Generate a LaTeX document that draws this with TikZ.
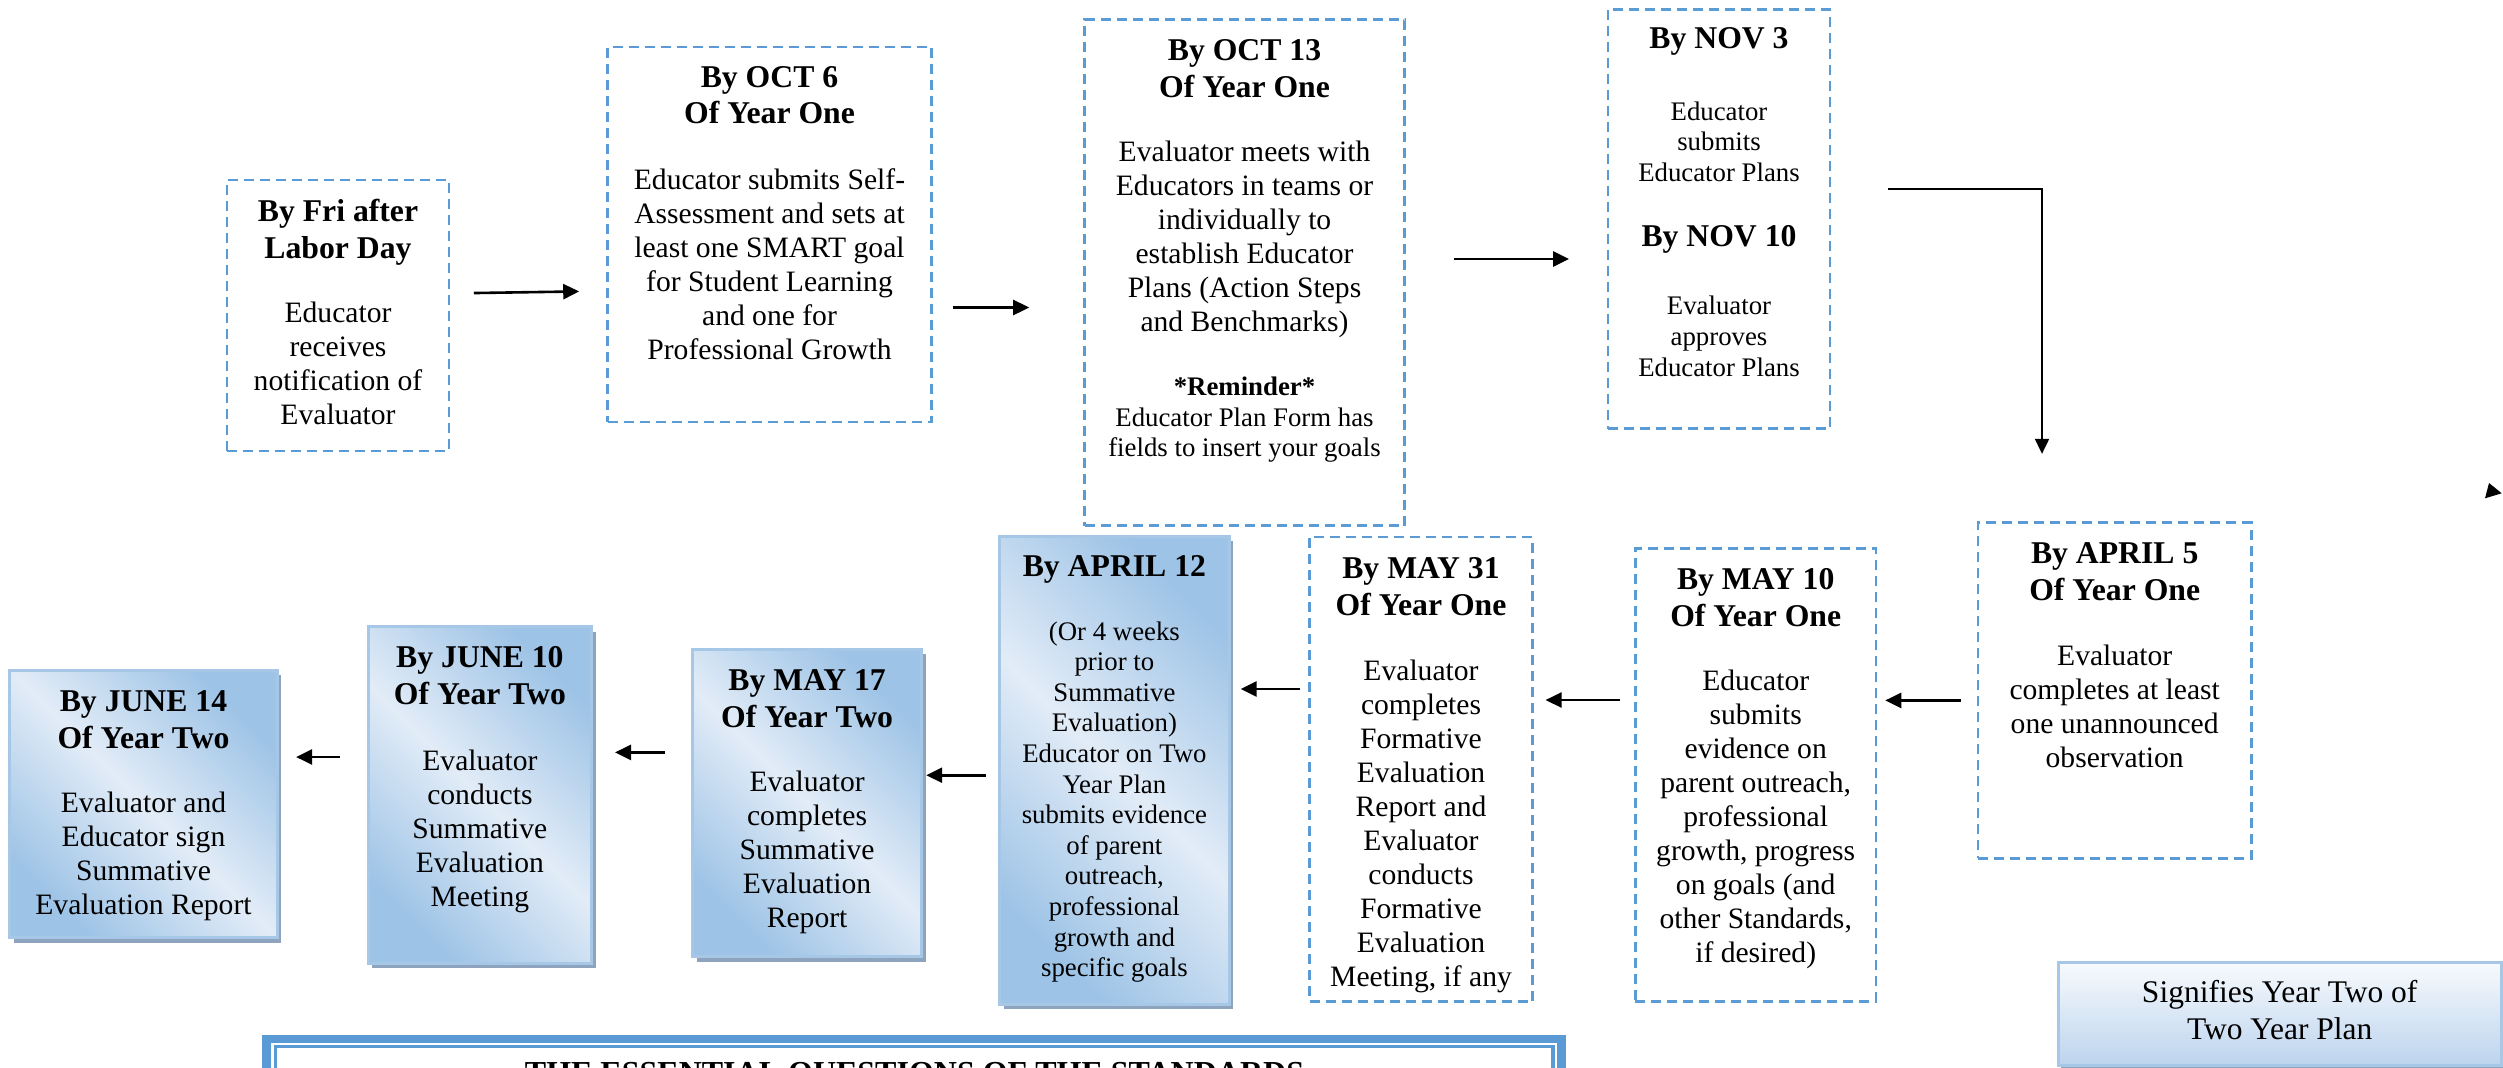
\documentclass[tikz,border=0pt]{standalone}
\usepackage{fontspec}
\setmainfont{Liberation Serif}
\usetikzlibrary{arrows.meta,shadows}
\definecolor{dashblue}{HTML}{5B9BD5}
\definecolor{gblue}{HTML}{9DC3E6}
\definecolor{glight}{HTML}{E2ECF7}
\definecolor{edgeblue}{HTML}{A7C7E7}
\definecolor{shadowc}{HTML}{8EA3BE}
\definecolor{legtop}{HTML}{F7FAFD}
\definecolor{legbot}{HTML}{BDD4EE}
\begin{document}
\begin{tikzpicture}[x=1pt,y=-1pt,
  dbox/.style={draw=dashblue, line width=2.6pt, dash pattern=on 10pt off 6pt, inner sep=0pt},
  sbox/.style={draw=edgeblue, line width=3pt, inner sep=0pt, left color=gblue, right color=gblue, middle color=glight, shading angle=135, drop shadow={shadow xshift=4pt, shadow yshift=-5pt, fill=shadowc, opacity=1}},
  legbox/.style={draw=edgeblue, line width=3pt, inner sep=0pt, top color=legtop, bottom color=legbot, drop shadow={shadow xshift=3pt, shadow yshift=-3pt, fill=shadowc, opacity=1}},
  hd/.style={font=\bfseries\fontsize{31.7}{36.5}\selectfont, align=center, inner sep=0pt, anchor=north},
  bd/.style={font=\fontsize{29.6}{34}\selectfont, align=center, inner sep=0pt, anchor=north},
  sm/.style={font=\fontsize{26.8}{30.6}\selectfont, align=center, inner sep=0pt, anchor=north},
  lg/.style={font=\fontsize{31.5}{36.7}\selectfont, align=center, inner sep=0pt, anchor=north},
  arr/.style={-{Triangle[length=16pt,width=15pt]}, line width=2.6pt},
  elbowarr/.style={-{Triangle[length=15pt,width=14pt]}, line width=2pt},
]
\useasboundingbox (0,0) rectangle (2503,1068);
\clip (0,0) rectangle (2503,1068);
\fill[white] (0,0) rectangle (2503,1068);

% ---------- top row ----------
\node[dbox, minimum width=222pt, minimum height=271pt] (fri) at (338,315.5) {};
\node[hd] (fri-h) at (338,196) {\strut By Fri after\\Labor Day};
\node[bd] (fri-b) at (338,298.1) {\strut Educator\\receives\\notification of\\Evaluator};

\node[dbox, minimum width=324pt, minimum height=375pt] (oct6) at (769.5,234.5) {};
\node[hd] (oct6-h) at (769.5,61.5) {\strut By OCT 6\\Of Year One};
\node[bd] (oct6-b) at (769.5,165.1) {\strut Educator submits Self-\\Assessment and sets at\\least one SMART goal\\for Student Learning\\and one for\\Professional Growth};

\node[dbox, minimum width=320pt, minimum height=506pt] (oct13) at (1244.5,272.7) {};
\node[hd] (oct13-h) at (1244.5,35) {\strut By OCT 13\\Of Year One};
\node[bd] (oct13-b) at (1244.5,137.6) {\strut Evaluator meets with\\Educators in teams or\\individually to\\establish Educator\\Plans (Action Steps\\and Benchmarks)};
\node[sm] (oct13-r) at (1244.5,374) {\strut\textbf{*Reminder*}\\Educator Plan Form has\\fields to insert your goals};

\node[dbox, minimum width=222pt, minimum height=419.4pt] (nov) at (1719,219) {};
\node[hd] (nov-h1) at (1719,23) {\strut By NOV 3};
\node[sm] (nov-b1) at (1719,98.7) {\strut Educator\\submits\\Educator Plans};
\node[hd] (nov-h2) at (1719,220.6) {\strut By NOV 10};
\node[sm] (nov-b2) at (1719,293.2) {\strut Evaluator\\approves\\Educator Plans};

% ---------- bottom row ----------
\node[dbox, minimum width=273.4pt, minimum height=335.5pt] (apr5) at (2114.7,690.5) {};
\node[hd] (apr5-h) at (2114.7,537.9) {\strut By APRIL 5\\Of Year One};
\node[bd] (apr5-b) at (2114.7,641.4) {\strut Evaluator\\completes at least\\one unannounced\\observation};

\node[dbox, minimum width=240.7pt, minimum height=452.9pt] (may10) at (1755.7,775) {};
\node[hd] (may10-h) at (1755.7,564) {\strut By MAY 10\\Of Year One};
\node[bd] (may10-b) at (1755.7,666.6) {\strut Educator\\submits\\evidence on\\parent outreach,\\professional\\growth, progress\\on goals (and\\other Standards,\\if desired)};

\node[dbox, minimum width=222.9pt, minimum height=464.8pt] (may31) at (1421,769.2) {};
\node[hd] (may31-h) at (1421,553) {\strut By MAY 31\\Of Year One};
\node[bd] (may31-b) at (1421,656.1) {\strut Evaluator\\completes\\Formative\\Evaluation\\Report and\\Evaluator\\conducts\\Formative\\Evaluation\\Meeting, if any};

\node[sbox, minimum width=229.8pt, minimum height=467.6pt] (apr12) at (1114.4,770.2) {};
\node[hd] (apr12-h) at (1114.4,551) {\strut By APRIL 12};
\node[sm] (apr12-b) at (1114.4,618.5) {\strut (Or 4 weeks\\prior to\\Summative\\Evaluation)\\Educator on Two\\Year Plan\\submits evidence\\of parent\\outreach,\\professional\\growth and\\specific goals};

\node[sbox, minimum width=229pt, minimum height=307.6pt] (may17) at (807.1,803.1) {};
\node[hd] (may17-h) at (807.1,664.8) {\strut By MAY 17\\Of Year Two};
\node[bd] (may17-b) at (807.1,767.9) {\strut Evaluator\\completes\\Summative\\Evaluation\\Report};

\node[sbox, minimum width=223.8pt, minimum height=336.6pt] (jun10) at (479.9,794.9) {};
\node[hd] (jun10-h) at (479.9,642) {\strut By JUNE 10\\Of Year Two};
\node[bd] (jun10-b) at (479.9,746.3) {\strut Evaluator\\conducts\\Summative\\Evaluation\\Meeting};

\node[sbox, minimum width=267.8pt, minimum height=267.4pt] (jun14) at (143.5,804) {};
\node[hd] (jun14-h) at (143.5,685.8) {\strut By JUNE 14\\Of Year Two};
\node[bd] (jun14-b) at (143.5,788.1) {\strut Evaluator and\\Educator sign\\Summative\\Evaluation Report};

% ---------- legend ----------
\node[legbox, minimum width=442.7pt, minimum height=102.7pt] (legend) at (2279.7,1013.7) {};
\node[lg] (legend-t) at (2279.7,977) {\strut Signifies Year Two of\\Two Year Plan};

% ---------- essential questions box ----------
\node[draw=dashblue, line width=8.5pt, inner sep=0pt, minimum width=1295pt, minimum height=522pt] (esq) at (914,1300) {};
\node[draw=dashblue, line width=3.5pt, inner sep=0pt, minimum width=1277.5pt, minimum height=522pt] (esqin) at (914.25,1307.7) {};
\node[font=\bfseries\fontsize{32}{36}\selectfont, inner sep=0pt, anchor=base] (esq-t) at (914.5,1083) {THE ESSENTIAL QUESTIONS OF THE STANDARDS};

% ---------- connectors ----------
\draw[arr, shorten <=23.5pt, shorten >=27pt] (fri.east |- 0,293.4) -- (oct6.west |- 0,291);
\draw[arr, shorten <=20.6pt, shorten >=54pt] (oct6.east |- 0,307.5) -- (oct13.west |- 0,307.5);
\draw[arr, shorten <=48.4pt, shorten >=37.6pt] (oct13.east |- 0,259) -- (nov.west |- 0,259);
\draw[elbowarr, shorten <=56.7pt, shorten >=67.6pt] (nov.east |- 0,189.4) -| (apr5.north -| 2042,0);

\draw[arr, shorten <=15.8pt, shorten >=7.9pt] (apr5.west |- 0,700.4) -- (may10.east |- 0,700.4);
\draw[arr, shorten <=13.8pt, shorten >=11.8pt] (may10.west |- 0,700) -- (may31.east |- 0,700);
\draw[arr, shorten <=7.9pt, shorten >=9.9pt] (may31.west |- 0,689) -- (apr12.east |- 0,689);
\draw[arr, shorten <=12.3pt, shorten >=3.1pt] (apr12.west |- 0,775.2) -- (may17.east |- 0,775.2);
\draw[arr, shorten <=26.1pt, shorten >=21.7pt] (may17.west |- 0,752.4) -- (jun10.east |- 0,752.4);
\draw[arr, shorten <=26.8pt, shorten >=17.2pt] (jun10.west |- 0,757) -- (jun14.east |- 0,757);

% stray arrowhead at the right edge
\fill (2489,483) -- (2501.7,493.3) -- (2485,498.3) -- cycle;
\end{tikzpicture}
\end{document}
